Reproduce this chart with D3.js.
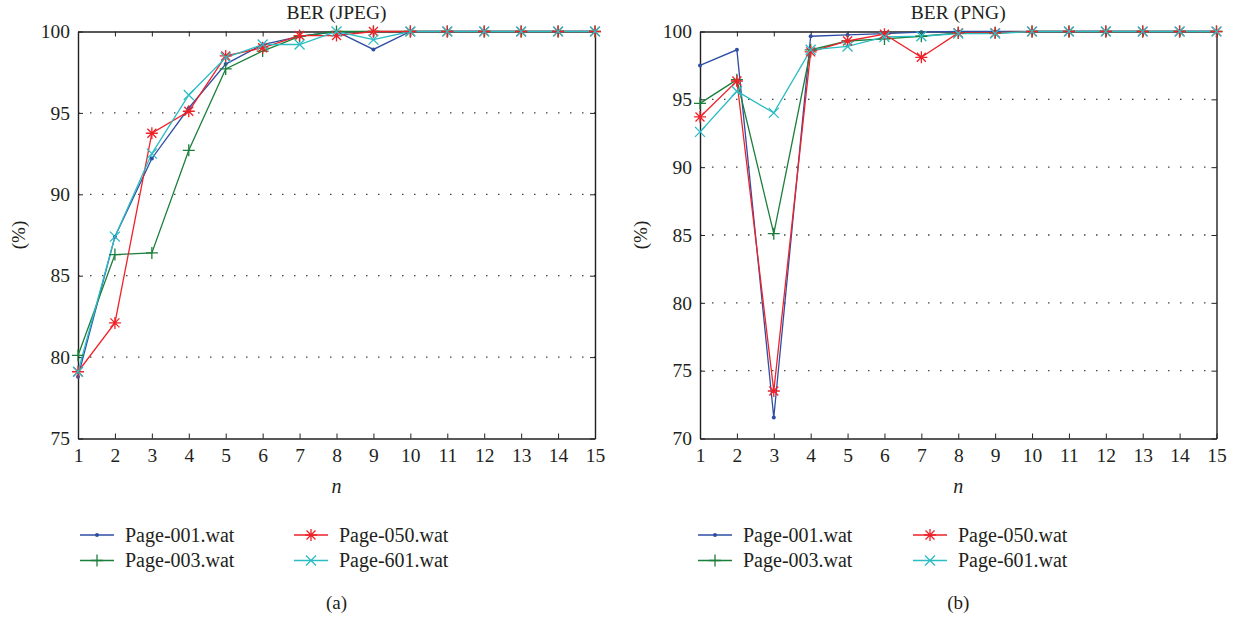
<!DOCTYPE html>
<html><head><meta charset="utf-8">
<script src="https://cdn.jsdelivr.net/npm/d3@7"></script>
<style>body{margin:0;background:#fff}svg{display:block}</style>
</head><body>
<svg id="c" width="1234" height="617"></svg>
<script>
const nValues = [1,2,3,4,5,6,7,8,9,10,11,12,13,14,15];
const seriesNames = ["Page-001.wat","Page-003.wat","Page-050.wat","Page-601.wat"];
const seriesColors = ["#2f4ea3","#1b7f3b","#ee2229","#2bbcc4"];
const seriesMarkers = ["dot","plus","star","cross"];
// BER (JPEG)
const jpeg001 = [78.8,87.4,92.2,95.3,98.0,99.2,99.7,100,98.9,100,100,100,100,100,100];
const jpeg003 = [80.1,86.3,86.4,92.7,97.7,98.8,99.7,100,100,100,100,100,100,100,100];
const jpeg050 = [79.1,82.1,93.75,95.1,98.5,99.0,99.75,99.75,100,100,100,100,100,100,100];
const jpeg601 = [79.1,87.4,92.5,96.1,98.4,99.2,99.2,100,99.5,100,100,100,100,100,100];
// BER (PNG)
const png001 = [97.5,98.65,71.55,99.65,99.75,99.85,99.95,100,100,100,100,100,100,100,100];
const png003 = [94.7,96.45,85.1,98.65,99.3,99.45,99.65,99.9,99.9,100,100,100,100,100,100];
const png050 = [93.7,96.35,73.5,98.5,99.3,99.8,98.1,99.9,99.9,100,100,100,100,100,100];
const png601 = [92.6,95.6,94.0,98.65,98.9,99.6,99.65,99.85,99.85,100,100,100,100,100,100];
const jpegTicks = [75,80,85,90,95,100];
const pngTicks = [70,75,80,85,90,95,100];

const FONT = '"Liberation Serif","Times New Roman",Times,"DejaVu Serif",serif';
const INK = "#231f20";
const svg = d3.select("#c");

function txt(sel, size){
  return sel.attr("font-family",FONT).style("font-family",FONT).attr("font-size",size).attr("fill",INK);
}

function marker(g, type, x, y, color){
  if(type==="dot"){
    g.append("circle").attr("cx",x).attr("cy",y).attr("r",2).attr("fill",color);
  } else if(type==="plus"){
    const s=6;
    g.append("path").attr("d",`M${x-s},${y}H${x+s}M${x},${y-s}V${y+s}`).attr("stroke",color).attr("stroke-width",1.3).attr("fill","none");
  } else if(type==="star"){
    const s=6, d=4.5;
    g.append("path").attr("d",`M${x-s},${y}H${x+s}M${x},${y-s}V${y+s}M${x-d},${y-d}L${x+d},${y+d}M${x-d},${y+d}L${x+d},${y-d}`).attr("stroke",color).attr("stroke-width",1.3).attr("fill","none");
  } else {
    const d=5;
    g.append("path").attr("d",`M${x-d},${y-d}L${x+d},${y+d}M${x-d},${y+d}L${x+d},${y-d}`).attr("stroke",color).attr("stroke-width",1.3).attr("fill","none");
  }
}

function panel(opt){
  const g = svg.append("g");
  const x = d3.scaleLinear().domain([1,15]).range([opt.x0,opt.x1]);
  const y = d3.scaleLinear().domain(opt.ydom).range([opt.y1,opt.y0]);
  g.selectAll(".grid").data(opt.ticks.filter(t=>t!==opt.ydom[0]&&t!==opt.ydom[1])).join("line")
    .attr("x1",opt.x0).attr("x2",opt.x1).attr("y1",d=>y(d)).attr("y2",d=>y(d))
    .attr("stroke","#444").attr("stroke-width",1.3).attr("stroke-dasharray","1.5,10.5");
  const ax = g.append("g").attr("transform",`translate(0,${opt.y1})`)
    .call(d3.axisBottom(x).tickValues(nValues).tickFormat(d3.format("d")).tickSizeInner(-5).tickSizeOuter(0).tickPadding(10));
  const axT = g.append("g").attr("transform",`translate(0,${opt.y0})`)
    .call(d3.axisTop(x).tickValues(nValues).tickFormat("").tickSizeInner(-5).tickSizeOuter(0));
  const ay = g.append("g").attr("transform",`translate(${opt.x0},0)`)
    .call(d3.axisLeft(y).tickValues(opt.ticks).tickFormat(d3.format("d")).tickSizeInner(-5).tickSizeOuter(0).tickPadding(8));
  const ayR = g.append("g").attr("transform",`translate(${opt.x1},0)`)
    .call(d3.axisRight(y).tickValues(opt.ticks).tickFormat("").tickSizeInner(-5).tickSizeOuter(0));
  [ax,axT,ay,ayR].forEach(a=>{
    a.attr("font-family",FONT);
    a.selectAll("path").attr("stroke",INK).attr("stroke-width",1.4);
    a.selectAll("line").attr("stroke",INK);
    txt(a.selectAll("text"),19.5);
  });
  const line = d3.line().x((d,i)=>x(nValues[i])).y(d=>y(d));
  opt.series.forEach((vals,k)=>{
    g.append("path").datum(vals).attr("d",line).attr("fill","none").attr("stroke",seriesColors[k]).attr("stroke-width",1.3);
  });
  opt.series.forEach((vals,k)=>{
    const mg = g.append("g");
    vals.forEach((v,i)=>marker(mg, seriesMarkers[k], x(nValues[i]), y(v), seriesColors[k]));
  });
  const cx = (opt.x0+opt.x1)/2;
  txt(g.append("text").attr("x",cx).attr("y",19).attr("text-anchor","middle"),19.5).text(opt.title);
  txt(g.append("text").attr("x",cx).attr("y",493).attr("text-anchor","middle"),20).style("font-style","italic").text("n");
  txt(g.append("text").attr("transform",`translate(${opt.x0-53},${(opt.y0+opt.y1)/2}) rotate(-90)`).attr("text-anchor","middle"),19).text("(%)");
  const lg = g.append("g");
  seriesNames.forEach((name,k)=>{
    const col = k<2?0:1, row = k%2;
    const lx = opt.legX + col*opt.legDX, ly = 535 + row*25.5;
    lg.append("line").attr("x1",lx).attr("x2",lx+34).attr("y1",ly).attr("y2",ly).attr("stroke",seriesColors[k]).attr("stroke-width",1.3);
    marker(lg, seriesMarkers[k], lx+17, ly, seriesColors[k]);
    txt(lg.append("text").attr("x",lx+45).attr("y",ly+6.5),20).text(name);
  });
  txt(g.append("text").attr("x",cx).attr("y",609).attr("text-anchor","middle"),19).text(opt.sub);
}

panel({x0:78,x1:595,y0:31.5,y1:438.5,ydom:[75,100],ticks:jpegTicks,title:"BER (JPEG)",sub:"(a)",
  series:[jpeg001,jpeg003,jpeg050,jpeg601],legX:80,legDX:214});
panel({x0:700,x1:1216.5,y0:31.5,y1:438.5,ydom:[70,100],ticks:pngTicks,title:"BER (PNG)",sub:"(b)",
  series:[png001,png003,png050,png601],legX:698,legDX:215});
</script>
</body></html>
